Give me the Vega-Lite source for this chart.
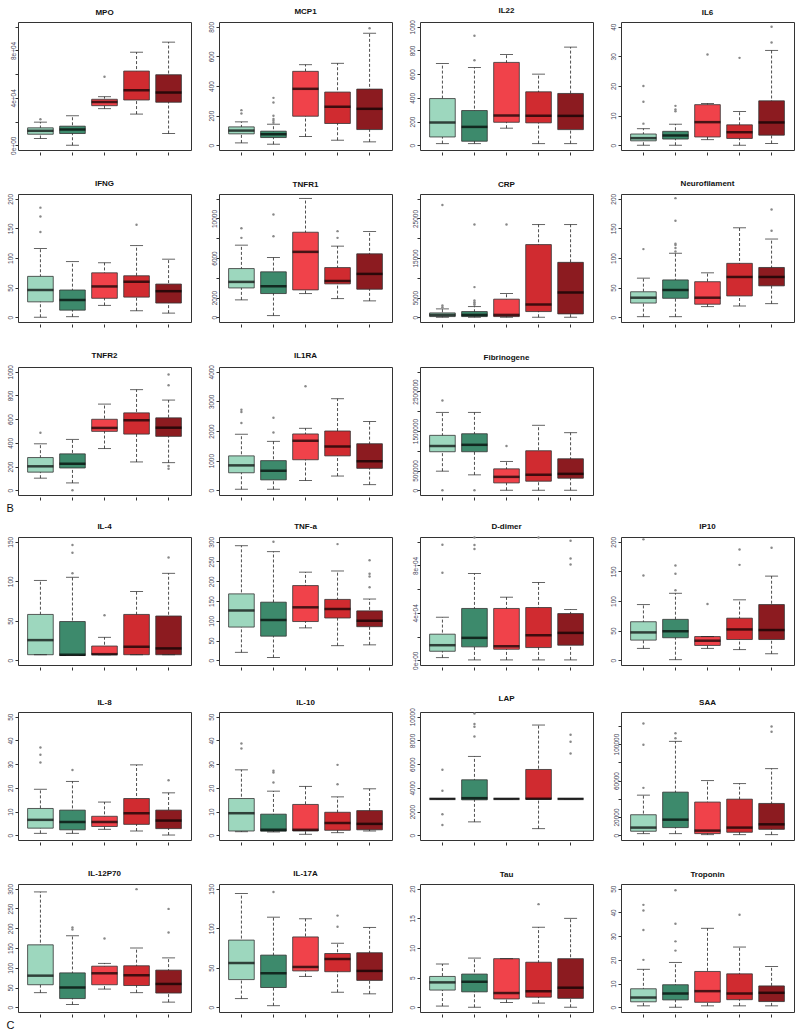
{
"$schema":"https://vega.github.io/schema/vega-lite/v6.json",
"padding":{"left":6,"top":6,"right":2,"bottom":2},
"background":"white",
"datasets":{"d":[
{"p":"MPO","g":1,"lo":5700,"q1":9300,"med":12200,"q3":14700,"hi":19500},
{"p":"MPO","g":2,"lo":0,"q1":9900,"med":13300,"q3":16100,"hi":24900},
{"p":"MPO","g":3,"lo":30900,"q1":33400,"med":36500,"q3":38800,"hi":41000},
{"p":"MPO","g":4,"lo":26300,"q1":38200,"med":46500,"q3":62600,"hi":78500},
{"p":"MPO","g":5,"lo":9900,"q1":36300,"med":44500,"q3":59500,"hi":87000},
{"p":"MPO","g":1,"o":22000},{"p":"MPO","g":3,"o":57800},
{"p":"MCP1","g":1,"lo":16,"q1":77,"med":99,"q3":124,"hi":158},
{"p":"MCP1","g":2,"lo":7,"q1":52,"med":74,"q3":95,"hi":142},
{"p":"MCP1","g":3,"lo":59,"q1":196,"med":381,"q3":499,"hi":544},
{"p":"MCP1","g":4,"lo":34,"q1":147,"med":260,"q3":359,"hi":553},
{"p":"MCP1","g":5,"lo":23,"q1":106,"med":246,"q3":379,"hi":756},
{"p":"MCP1","g":1,"o":214},{"p":"MCP1","g":1,"o":237},
{"p":"MCP1","g":2,"o":152},{"p":"MCP1","g":2,"o":165},{"p":"MCP1","g":2,"o":178},{"p":"MCP1","g":2,"o":199},{"p":"MCP1","g":2,"o":288},{"p":"MCP1","g":2,"o":320},
{"p":"MCP1","g":5,"o":790},
{"p":"IL22","g":1,"lo":14,"q1":70,"med":192,"q3":394,"hi":690},
{"p":"IL22","g":2,"lo":14,"q1":34,"med":155,"q3":293,"hi":656},
{"p":"IL22","g":3,"lo":144,"q1":194,"med":251,"q3":699,"hi":766},
{"p":"IL22","g":4,"lo":14,"q1":189,"med":248,"q3":451,"hi":600},
{"p":"IL22","g":5,"lo":14,"q1":132,"med":248,"q3":437,"hi":828},
{"p":"IL22","g":2,"o":718},{"p":"IL22","g":2,"o":924},
{"p":"IL6","g":1,"lo":0,"q1":1.5,"med":2.4,"q3":3.8,"hi":5.6},
{"p":"IL6","g":2,"lo":0,"q1":2.1,"med":3.3,"q3":4.7,"hi":7.1},
{"p":"IL6","g":3,"lo":1.9,"q1":2.8,"med":7.8,"q3":13.7,"hi":14.1},
{"p":"IL6","g":4,"lo":0,"q1":2.3,"med":4.4,"q3":6.9,"hi":11.4},
{"p":"IL6","g":5,"lo":0.6,"q1":3.4,"med":7.7,"q3":15,"hi":32},
{"p":"IL6","g":1,"o":7.3},{"p":"IL6","g":1,"o":14.7},{"p":"IL6","g":1,"o":20},
{"p":"IL6","g":2,"o":11.5},{"p":"IL6","g":2,"o":12.1},{"p":"IL6","g":2,"o":13.3},
{"p":"IL6","g":3,"o":30.6},{"p":"IL6","g":4,"o":29.5},{"p":"IL6","g":5,"o":34.7},{"p":"IL6","g":5,"o":40},
{"p":"IFNG","g":1,"lo":0,"q1":26,"med":46,"q3":69,"hi":116},
{"p":"IFNG","g":2,"lo":1,"q1":12,"med":29,"q3":46,"hi":94},
{"p":"IFNG","g":3,"lo":20,"q1":32,"med":52,"q3":75,"hi":92},
{"p":"IFNG","g":4,"lo":11,"q1":34,"med":60,"q3":70,"hi":121},
{"p":"IFNG","g":5,"lo":7,"q1":24,"med":44,"q3":56,"hi":98},
{"p":"IFNG","g":1,"o":144},{"p":"IFNG","g":1,"o":170},{"p":"IFNG","g":1,"o":185},{"p":"IFNG","g":4,"o":156},
{"p":"TNFR1","g":1,"lo":1760,"q1":2970,"med":3580,"q3":4930,"hi":7300},
{"p":"TNFR1","g":2,"lo":170,"q1":2400,"med":3140,"q3":4600,"hi":6050},
{"p":"TNFR1","g":3,"lo":2400,"q1":2770,"med":6620,"q3":8610,"hi":12030},
{"p":"TNFR1","g":4,"lo":1890,"q1":3380,"med":3680,"q3":5030,"hi":7200},
{"p":"TNFR1","g":5,"lo":1660,"q1":2840,"med":4390,"q3":6420,"hi":8680},
{"p":"TNFR1","g":1,"o":8040},{"p":"TNFR1","g":1,"o":9020},{"p":"TNFR1","g":2,"o":8210},{"p":"TNFR1","g":2,"o":10400},{"p":"TNFR1","g":4,"o":8040},{"p":"TNFR1","g":4,"o":8720},
{"p":"CRP","g":1,"lo":0,"q1":170,"med":590,"q3":1100,"hi":2120},
{"p":"CRP","g":2,"lo":0,"q1":170,"med":590,"q3":1440,"hi":2710},
{"p":"CRP","g":3,"lo":0,"q1":170,"med":590,"q3":4580,"hi":6020},
{"p":"CRP","g":4,"lo":0,"q1":1440,"med":3220,"q3":18390,"hi":23470},
{"p":"CRP","g":5,"lo":0,"q1":850,"med":6270,"q3":13900,"hi":23470},
{"p":"CRP","g":1,"o":2540},{"p":"CRP","g":1,"o":2970},{"p":"CRP","g":1,"o":28400},
{"p":"CRP","g":2,"o":3140},{"p":"CRP","g":2,"o":3390},{"p":"CRP","g":2,"o":3810},{"p":"CRP","g":2,"o":4240},{"p":"CRP","g":2,"o":7630},{"p":"CRP","g":2,"o":23500},
{"p":"CRP","g":3,"o":23500},
{"p":"Neurofilament","g":1,"lo":1,"q1":24,"med":33,"q3":43,"hi":66},
{"p":"Neurofilament","g":2,"lo":1,"q1":32,"med":46,"q3":63,"hi":108},
{"p":"Neurofilament","g":3,"lo":18,"q1":22,"med":33,"q3":60,"hi":75},
{"p":"Neurofilament","g":4,"lo":19,"q1":36,"med":68,"q3":91,"hi":151},
{"p":"Neurofilament","g":5,"lo":23,"q1":53,"med":68,"q3":84,"hi":132},
{"p":"Neurofilament","g":1,"o":115},
{"p":"Neurofilament","g":2,"o":111},{"p":"Neurofilament","g":2,"o":117},{"p":"Neurofilament","g":2,"o":122},{"p":"Neurofilament","g":2,"o":124},{"p":"Neurofilament","g":2,"o":163},{"p":"Neurofilament","g":2,"o":201},
{"p":"Neurofilament","g":5,"o":146},{"p":"Neurofilament","g":5,"o":182},
{"p":"TNFR2","g":1,"lo":102,"q1":153,"med":202,"q3":276,"hi":392},
{"p":"TNFR2","g":2,"lo":62,"q1":188,"med":224,"q3":307,"hi":429},
{"p":"TNFR2","g":3,"lo":352,"q1":497,"med":526,"q3":599,"hi":727},
{"p":"TNFR2","g":4,"lo":239,"q1":474,"med":591,"q3":653,"hi":849},
{"p":"TNFR2","g":5,"lo":233,"q1":455,"med":528,"q3":611,"hi":761},
{"p":"TNFR2","g":1,"o":486},{"p":"TNFR2","g":2,"o":0},
{"p":"TNFR2","g":5,"o":204},{"p":"TNFR2","g":5,"o":182},{"p":"TNFR2","g":5,"o":886},{"p":"TNFR2","g":5,"o":977},
{"p":"IL1RA","g":1,"lo":34,"q1":590,"med":840,"q3":1160,"hi":1890},
{"p":"IL1RA","g":2,"lo":34,"q1":350,"med":660,"q3":1000,"hi":1650},
{"p":"IL1RA","g":3,"lo":330,"q1":1030,"med":1670,"q3":1900,"hi":2090},
{"p":"IL1RA","g":4,"lo":480,"q1":1160,"med":1480,"q3":2000,"hi":3090},
{"p":"IL1RA","g":5,"lo":190,"q1":740,"med":980,"q3":1570,"hi":2320},
{"p":"IL1RA","g":1,"o":2270},{"p":"IL1RA","g":1,"o":2640},{"p":"IL1RA","g":1,"o":2720},
{"p":"IL1RA","g":2,"o":1950},{"p":"IL1RA","g":2,"o":2450},{"p":"IL1RA","g":3,"o":3510},
{"p":"Fibrinogene","g":1,"lo":483000,"q1":975000,"med":1120000,"q3":1390000,"hi":1970000},
{"p":"Fibrinogene","g":2,"lo":390000,"q1":975000,"med":1150000,"q3":1430000,"hi":1970000},
{"p":"Fibrinogene","g":3,"lo":0,"q1":186000,"med":339000,"q3":542000,"hi":729000},
{"p":"Fibrinogene","g":4,"lo":0,"q1":229000,"med":390000,"q3":1000000,"hi":1644000},
{"p":"Fibrinogene","g":5,"lo":0,"q1":305000,"med":415000,"q3":797000,"hi":1458000},
{"p":"Fibrinogene","g":1,"o":2270000},{"p":"Fibrinogene","g":1,"o":0},{"p":"Fibrinogene","g":2,"o":0},{"p":"Fibrinogene","g":3,"o":1120000},
{"p":"IL-4","g":1,"lo":7,"q1":7,"med":25.5,"q3":58,"hi":101},
{"p":"IL-4","g":2,"lo":6,"q1":6,"med":7,"q3":49,"hi":105},
{"p":"IL-4","g":3,"lo":7,"q1":7,"med":7.7,"q3":18,"hi":29},
{"p":"IL-4","g":4,"lo":7,"q1":7,"med":17,"q3":58,"hi":87},
{"p":"IL-4","g":5,"lo":7,"q1":7,"med":15,"q3":56,"hi":110},
{"p":"IL-4","g":2,"o":110},{"p":"IL-4","g":2,"o":136},{"p":"IL-4","g":2,"o":146},{"p":"IL-4","g":3,"o":57},{"p":"IL-4","g":5,"o":130},
{"p":"TNF-a","g":1,"lo":20,"q1":84,"med":126,"q3":168,"hi":290},
{"p":"TNF-a","g":2,"lo":7,"q1":61,"med":102,"q3":147,"hi":275},
{"p":"TNF-a","g":3,"lo":82,"q1":98,"med":134,"q3":189,"hi":223},
{"p":"TNF-a","g":4,"lo":37,"q1":107,"med":130,"q3":154,"hi":226},
{"p":"TNF-a","g":5,"lo":39,"q1":85,"med":100,"q3":125,"hi":155},
{"p":"TNF-a","g":2,"o":300},{"p":"TNF-a","g":4,"o":294},
{"p":"TNF-a","g":5,"o":185},{"p":"TNF-a","g":5,"o":212},{"p":"TNF-a","g":5,"o":219},{"p":"TNF-a","g":5,"o":253},
{"p":"D-dimer","g":1,"lo":2250,"q1":7600,"med":12700,"q3":22000,"hi":36300},
{"p":"D-dimer","g":2,"lo":300,"q1":11300,"med":18900,"q3":43700,"hi":73200},
{"p":"D-dimer","g":3,"lo":300,"q1":9300,"med":11800,"q3":43700,"hi":53200},
{"p":"D-dimer","g":4,"lo":300,"q1":10700,"med":21100,"q3":44500,"hi":65600},
{"p":"D-dimer","g":5,"lo":300,"q1":12700,"med":23100,"q3":39400,"hi":42800},
{"p":"D-dimer","g":1,"o":73800},{"p":"D-dimer","g":1,"o":97500},
{"p":"D-dimer","g":2,"o":93800},{"p":"D-dimer","g":2,"o":97200},{"p":"D-dimer","g":2,"o":103500},
{"p":"D-dimer","g":4,"o":103500},
{"p":"D-dimer","g":5,"o":80800},{"p":"D-dimer","g":5,"o":85900},{"p":"D-dimer","g":5,"o":100800},
{"p":"IP10","g":1,"lo":20,"q1":34,"med":47,"q3":65,"hi":94},
{"p":"IP10","g":2,"lo":1,"q1":38,"med":49,"q3":69,"hi":113},
{"p":"IP10","g":3,"lo":20,"q1":25,"med":33,"q3":40,"hi":40},
{"p":"IP10","g":4,"lo":18,"q1":35,"med":52,"q3":71,"hi":102},
{"p":"IP10","g":5,"lo":11,"q1":35,"med":51,"q3":94,"hi":142},
{"p":"IP10","g":1,"o":143},{"p":"IP10","g":1,"o":204},
{"p":"IP10","g":2,"o":118},{"p":"IP10","g":2,"o":146},{"p":"IP10","g":2,"o":160},
{"p":"IP10","g":3,"o":95},{"p":"IP10","g":4,"o":161},{"p":"IP10","g":4,"o":187},{"p":"IP10","g":5,"o":190},
{"p":"IL-8","g":1,"lo":0.8,"q1":3,"med":6.5,"q3":11.3,"hi":19.4},
{"p":"IL-8","g":2,"lo":0.8,"q1":2.3,"med":5.6,"q3":10.6,"hi":22.7},
{"p":"IL-8","g":3,"lo":2.5,"q1":3.7,"med":5.6,"q3":8,"hi":14},
{"p":"IL-8","g":4,"lo":1.8,"q1":4.6,"med":9.3,"q3":15.5,"hi":29.7},
{"p":"IL-8","g":5,"lo":0.1,"q1":2.8,"med":6.2,"q3":10.6,"hi":17.9},
{"p":"IL-8","g":1,"o":30.7},{"p":"IL-8","g":1,"o":34},{"p":"IL-8","g":1,"o":37},{"p":"IL-8","g":2,"o":27.5},{"p":"IL-8","g":5,"o":23.2},
{"p":"IL-10","g":1,"lo":1.5,"q1":1.8,"med":9.3,"q3":15.5,"hi":27.6},
{"p":"IL-10","g":2,"lo":1.4,"q1":1.7,"med":2.3,"q3":8.9,"hi":18.6},
{"p":"IL-10","g":3,"lo":0.4,"q1":1.8,"med":2.3,"q3":13,"hi":20.6},
{"p":"IL-10","g":4,"lo":1.1,"q1":2.1,"med":5.2,"q3":9.7,"hi":16.2},
{"p":"IL-10","g":5,"lo":1.8,"q1":2.3,"med":4.8,"q3":10.4,"hi":19.6},
{"p":"IL-10","g":1,"o":36.6},{"p":"IL-10","g":1,"o":38.7},
{"p":"IL-10","g":2,"o":22.3},{"p":"IL-10","g":2,"o":26.5},{"p":"IL-10","g":2,"o":27.2},
{"p":"IL-10","g":4,"o":21.5},{"p":"IL-10","g":4,"o":29.7},
{"p":"LAP","g":1,"lo":3070,"q1":3070,"med":3070,"q3":3070,"hi":3070},
{"p":"LAP","g":2,"lo":1130,"q1":2990,"med":3130,"q3":4680,"hi":6650},
{"p":"LAP","g":3,"lo":3070,"q1":3070,"med":3070,"q3":3070,"hi":3070},
{"p":"LAP","g":4,"lo":560,"q1":3040,"med":3070,"q3":5550,"hi":9300},
{"p":"LAP","g":5,"lo":3070,"q1":3070,"med":3070,"q3":3070,"hi":3070},
{"p":"LAP","g":1,"o":870},{"p":"LAP","g":1,"o":1770},{"p":"LAP","g":1,"o":3750},{"p":"LAP","g":1,"o":5520},
{"p":"LAP","g":2,"o":8340},{"p":"LAP","g":2,"o":9150},{"p":"LAP","g":2,"o":9380},{"p":"LAP","g":2,"o":10280},
{"p":"LAP","g":5,"o":6900},{"p":"LAP","g":5,"o":7890},{"p":"LAP","g":5,"o":8480},
{"p":"SAA","g":1,"lo":1800,"q1":4400,"med":8400,"q3":22500,"hi":44000},
{"p":"SAA","g":2,"lo":1800,"q1":8400,"med":17100,"q3":47300,"hi":103000},
{"p":"SAA","g":3,"lo":700,"q1":1800,"med":5100,"q3":36400,"hi":60000},
{"p":"SAA","g":4,"lo":700,"q1":3300,"med":8400,"q3":39600,"hi":56700},
{"p":"SAA","g":5,"lo":700,"q1":6500,"med":12000,"q3":34900,"hi":73100},
{"p":"SAA","g":1,"o":52000},{"p":"SAA","g":1,"o":99300},{"p":"SAA","g":1,"o":122500},
{"p":"SAA","g":2,"o":106500},{"p":"SAA","g":2,"o":112000},
{"p":"SAA","g":5,"o":113500},{"p":"SAA","g":5,"o":119300},
{"p":"IL-12P70","g":1,"lo":37,"q1":57,"med":80,"q3":158,"hi":292},
{"p":"IL-12P70","g":2,"lo":7,"q1":22,"med":50,"q3":87,"hi":181},
{"p":"IL-12P70","g":3,"lo":46,"q1":57,"med":86,"q3":104,"hi":111},
{"p":"IL-12P70","g":4,"lo":37,"q1":55,"med":81,"q3":105,"hi":150},
{"p":"IL-12P70","g":5,"lo":13,"q1":36,"med":59,"q3":94,"hi":125},
{"p":"IL-12P70","g":2,"o":197},{"p":"IL-12P70","g":2,"o":202},{"p":"IL-12P70","g":3,"o":174},{"p":"IL-12P70","g":4,"o":299},
{"p":"IL-12P70","g":5,"o":189},{"p":"IL-12P70","g":5,"o":249},
{"p":"IL-17A","g":1,"lo":11,"q1":35,"med":56,"q3":85,"hi":144},
{"p":"IL-17A","g":2,"lo":2,"q1":25,"med":43,"q3":66,"hi":114},
{"p":"IL-17A","g":3,"lo":39,"q1":46,"med":51,"q3":89,"hi":112},
{"p":"IL-17A","g":4,"lo":19,"q1":45,"med":61,"q3":68,"hi":81},
{"p":"IL-17A","g":5,"lo":17,"q1":34,"med":46,"q3":69,"hi":101},
{"p":"IL-17A","g":2,"o":146},{"p":"IL-17A","g":4,"o":102},{"p":"IL-17A","g":4,"o":116},
{"p":"Tau","g":1,"lo":0.2,"q1":2.9,"med":4.2,"q3":5.2,"hi":7.3},
{"p":"Tau","g":2,"lo":0,"q1":2.6,"med":4.3,"q3":5.6,"hi":8.3},
{"p":"Tau","g":3,"lo":0.8,"q1":1.4,"med":2.4,"q3":8.2,"hi":8.2},
{"p":"Tau","g":4,"lo":0.7,"q1":1.7,"med":2.7,"q3":7.6,"hi":13.5},
{"p":"Tau","g":5,"lo":0,"q1":1.5,"med":3.3,"q3":8.2,"hi":15},
{"p":"Tau","g":4,"o":17.4},
{"p":"Troponin","g":1,"lo":0.6,"q1":2.3,"med":4.1,"q3":7.8,"hi":16},
{"p":"Troponin","g":2,"lo":0,"q1":3.1,"med":5.8,"q3":9.5,"hi":18.9},
{"p":"Troponin","g":3,"lo":0.6,"q1":2.1,"med":6.8,"q3":15.1,"hi":33.3},
{"p":"Troponin","g":4,"lo":0.6,"q1":3.2,"med":5.8,"q3":14.1,"hi":25.4},
{"p":"Troponin","g":5,"lo":0.6,"q1":2.4,"med":6.1,"q3":9,"hi":17.2},
{"p":"Troponin","g":1,"o":20},{"p":"Troponin","g":1,"o":32.6},{"p":"Troponin","g":1,"o":40.8},{"p":"Troponin","g":1,"o":43.2},
{"p":"Troponin","g":2,"o":23.9},{"p":"Troponin","g":2,"o":27.8},{"p":"Troponin","g":2,"o":35.2},{"p":"Troponin","g":2,"o":49.4},
{"p":"Troponin","g":4,"o":39}
]},
"data":{"name":"d"},
"config":{
"font":"Liberation Sans",
"view":{"stroke":"#333","strokeWidth":1},
"range":{"category":["#9dd7be","#3d8a6c","#f0424a","#d02b30","#8c1b20"]},
"scale":{"bandPaddingInner":0.2,"bandPaddingOuter":0.3},
"mark":{"invalid":"filter"},
"axis":{"grid":false,"domain":false,"tickColor":"#333"},
"axisX":{"labels":false,"tickSize":3,"offset":2},
"axisY":{"labelAngle":-90,"labelFontSize":6.5,"labelColor":"#445","tickSize":3,"labelPadding":2,"labelFlush":false,"labelOverlap":false,"tickCount":20},
"title":{"fontSize":8,"fontWeight":"bold","offset":5,"color":"#111"}
},
"spacing":8,
"vconcat":[
{"columns":4,"spacing":{"row":23,"column":15},
"title":{"text":"B","orient":"bottom","anchor":"start","fontSize":11,"fontWeight":"normal","offset":2},
"concat":[
{"title":"MPO","width":173,"height":128,"transform":[{"filter":"datum.p==='MPO'"}],"resolve":{"axis":{"y":"independent"}},"encoding":{"x":{"field":"g","type":"ordinal","title":null}},"layer":[
{"mark":{"type":"rule","strokeDash":[3,2],"color":"#222","strokeWidth":0.8},"encoding":{"y":{"field":"lo","type":"quantitative","title":null,"scale":{"domain":[-4000,104000],"nice":false,"zero":false},"axis":{"values":[0,20000,40000,60000,80000,100000],"tickCount":20,"labels":false,"orient":"left"}},"y2":{"field":"hi"}}},
{"mark":{"type":"bar","stroke":"#333","strokeWidth":0.8},"encoding":{"y":{"field":"q1","type":"quantitative","title":null,"axis":{"values":[0,40000,80000],"tickCount":20,"ticks":false,"orient":"left","labelOverlap":false,"labelExpr":"replace(format(datum.value,'.0e'),'e+','e+0')"}},"y2":{"field":"q3"},"color":{"field":"g","type":"nominal","legend":null}}},
{"mark":{"type":"tick","thickness":2.5,"size":26,"color":"#000"},"encoding":{"y":{"field":"med","type":"quantitative","title":null,"axis":null}}},
{"mark":{"type":"tick","thickness":1,"size":13,"color":"#222"},"encoding":{"y":{"field":"lo","type":"quantitative","title":null,"axis":null}}},
{"mark":{"type":"tick","thickness":1,"size":13,"color":"#222"},"encoding":{"y":{"field":"hi","type":"quantitative","title":null,"axis":null}}},
{"mark":{"type":"point","filled":true,"size":6,"color":"#888","opacity":1},"encoding":{"y":{"field":"o","type":"quantitative","title":null,"axis":null}}}]},
{"title":"MCP1","width":173,"height":128,"transform":[{"filter":"datum.p==='MCP1'"}],"encoding":{"x":{"field":"g","type":"ordinal","title":null}},"layer":[
{"mark":{"type":"rule","strokeDash":[3,2],"color":"#222","strokeWidth":0.8},"encoding":{"y":{"field":"lo","type":"quantitative","title":null,"scale":{"domain":[-32,832],"nice":false,"zero":false},"axis":{"values":[0,200,400,600,800],"tickCount":20,"format":"d","labelOverlap":false}},"y2":{"field":"hi"}}},
{"mark":{"type":"bar","stroke":"#333","strokeWidth":0.8},"encoding":{"y":{"field":"q1","type":"quantitative","title":null},"y2":{"field":"q3"},"color":{"field":"g","type":"nominal","legend":null}}},
{"mark":{"type":"tick","thickness":2.5,"size":26,"color":"#000"},"encoding":{"y":{"field":"med","type":"quantitative","title":null}}},
{"mark":{"type":"tick","thickness":1,"size":13,"color":"#222"},"encoding":{"y":{"field":"lo","type":"quantitative","title":null}}},
{"mark":{"type":"tick","thickness":1,"size":13,"color":"#222"},"encoding":{"y":{"field":"hi","type":"quantitative","title":null}}},
{"mark":{"type":"point","filled":true,"size":6,"color":"#888","opacity":1},"encoding":{"y":{"field":"o","type":"quantitative","title":null}}}]},
{"title":"IL22","width":173,"height":128,"transform":[{"filter":"datum.p==='IL22'"}],"encoding":{"x":{"field":"g","type":"ordinal","title":null}},"layer":[
{"mark":{"type":"rule","strokeDash":[3,2],"color":"#222","strokeWidth":0.8},"encoding":{"y":{"field":"lo","type":"quantitative","title":null,"scale":{"domain":[-40,1040],"nice":false,"zero":false},"axis":{"values":[0,200,400,600,800,1000],"tickCount":20,"format":"d","labelOverlap":false}},"y2":{"field":"hi"}}},
{"mark":{"type":"bar","stroke":"#333","strokeWidth":0.8},"encoding":{"y":{"field":"q1","type":"quantitative","title":null},"y2":{"field":"q3"},"color":{"field":"g","type":"nominal","legend":null}}},
{"mark":{"type":"tick","thickness":2.5,"size":26,"color":"#000"},"encoding":{"y":{"field":"med","type":"quantitative","title":null}}},
{"mark":{"type":"tick","thickness":1,"size":13,"color":"#222"},"encoding":{"y":{"field":"lo","type":"quantitative","title":null}}},
{"mark":{"type":"tick","thickness":1,"size":13,"color":"#222"},"encoding":{"y":{"field":"hi","type":"quantitative","title":null}}},
{"mark":{"type":"point","filled":true,"size":6,"color":"#888","opacity":1},"encoding":{"y":{"field":"o","type":"quantitative","title":null}}}]},
{"title":"IL6","width":173,"height":128,"transform":[{"filter":"datum.p==='IL6'"}],"encoding":{"x":{"field":"g","type":"ordinal","title":null}},"layer":[
{"mark":{"type":"rule","strokeDash":[3,2],"color":"#222","strokeWidth":0.8},"encoding":{"y":{"field":"lo","type":"quantitative","title":null,"scale":{"domain":[-1.6,41.6],"nice":false,"zero":false},"axis":{"values":[0,10,20,30,40],"tickCount":20,"format":"d","labelOverlap":false}},"y2":{"field":"hi"}}},
{"mark":{"type":"bar","stroke":"#333","strokeWidth":0.8},"encoding":{"y":{"field":"q1","type":"quantitative","title":null},"y2":{"field":"q3"},"color":{"field":"g","type":"nominal","legend":null}}},
{"mark":{"type":"tick","thickness":2.5,"size":26,"color":"#000"},"encoding":{"y":{"field":"med","type":"quantitative","title":null}}},
{"mark":{"type":"tick","thickness":1,"size":13,"color":"#222"},"encoding":{"y":{"field":"lo","type":"quantitative","title":null}}},
{"mark":{"type":"tick","thickness":1,"size":13,"color":"#222"},"encoding":{"y":{"field":"hi","type":"quantitative","title":null}}},
{"mark":{"type":"point","filled":true,"size":6,"color":"#888","opacity":1},"encoding":{"y":{"field":"o","type":"quantitative","title":null}}}]},
{"title":"IFNG","width":173,"height":128,"transform":[{"filter":"datum.p==='IFNG'"}],"encoding":{"x":{"field":"g","type":"ordinal","title":null}},"layer":[
{"mark":{"type":"rule","strokeDash":[3,2],"color":"#222","strokeWidth":0.8},"encoding":{"y":{"field":"lo","type":"quantitative","title":null,"scale":{"domain":[-8,208],"nice":false,"zero":false},"axis":{"values":[0,50,100,150,200],"tickCount":20,"format":"d","labelOverlap":false}},"y2":{"field":"hi"}}},
{"mark":{"type":"bar","stroke":"#333","strokeWidth":0.8},"encoding":{"y":{"field":"q1","type":"quantitative","title":null},"y2":{"field":"q3"},"color":{"field":"g","type":"nominal","legend":null}}},
{"mark":{"type":"tick","thickness":2.5,"size":26,"color":"#000"},"encoding":{"y":{"field":"med","type":"quantitative","title":null}}},
{"mark":{"type":"tick","thickness":1,"size":13,"color":"#222"},"encoding":{"y":{"field":"lo","type":"quantitative","title":null}}},
{"mark":{"type":"tick","thickness":1,"size":13,"color":"#222"},"encoding":{"y":{"field":"hi","type":"quantitative","title":null}}},
{"mark":{"type":"point","filled":true,"size":6,"color":"#888","opacity":1},"encoding":{"y":{"field":"o","type":"quantitative","title":null}}}]},
{"title":"TNFR1","width":173,"height":128,"transform":[{"filter":"datum.p==='TNFR1'"}],"resolve":{"axis":{"y":"independent"}},"encoding":{"x":{"field":"g","type":"ordinal","title":null}},"layer":[
{"mark":{"type":"rule","strokeDash":[3,2],"color":"#222","strokeWidth":0.8},"encoding":{"y":{"field":"lo","type":"quantitative","title":null,"scale":{"domain":[-480,12480],"nice":false,"zero":false},"axis":{"values":[0,2000,4000,6000,8000,10000,12000],"tickCount":20,"labels":false,"orient":"left"}},"y2":{"field":"hi"}}},
{"mark":{"type":"bar","stroke":"#333","strokeWidth":0.8},"encoding":{"y":{"field":"q1","type":"quantitative","title":null,"axis":{"values":[0,2000,6000,10000],"tickCount":20,"ticks":false,"orient":"left","format":"d","labelOverlap":false}},"y2":{"field":"q3"},"color":{"field":"g","type":"nominal","legend":null}}},
{"mark":{"type":"tick","thickness":2.5,"size":26,"color":"#000"},"encoding":{"y":{"field":"med","type":"quantitative","title":null,"axis":null}}},
{"mark":{"type":"tick","thickness":1,"size":13,"color":"#222"},"encoding":{"y":{"field":"lo","type":"quantitative","title":null,"axis":null}}},
{"mark":{"type":"tick","thickness":1,"size":13,"color":"#222"},"encoding":{"y":{"field":"hi","type":"quantitative","title":null,"axis":null}}},
{"mark":{"type":"point","filled":true,"size":6,"color":"#888","opacity":1},"encoding":{"y":{"field":"o","type":"quantitative","title":null,"axis":null}}}]},
{"title":"CRP","width":173,"height":128,"transform":[{"filter":"datum.p==='CRP'"}],"resolve":{"axis":{"y":"independent"}},"encoding":{"x":{"field":"g","type":"ordinal","title":null}},"layer":[
{"mark":{"type":"rule","strokeDash":[3,2],"color":"#222","strokeWidth":0.8},"encoding":{"y":{"field":"lo","type":"quantitative","title":null,"scale":{"domain":[-1200,31200],"nice":false,"zero":false},"axis":{"values":[0,5000,10000,15000,20000,25000,30000],"tickCount":20,"labels":false,"orient":"left"}},"y2":{"field":"hi"}}},
{"mark":{"type":"bar","stroke":"#333","strokeWidth":0.8},"encoding":{"y":{"field":"q1","type":"quantitative","title":null,"axis":{"values":[0,5000,15000,25000],"tickCount":20,"ticks":false,"orient":"left","format":"d","labelOverlap":false}},"y2":{"field":"q3"},"color":{"field":"g","type":"nominal","legend":null}}},
{"mark":{"type":"tick","thickness":2.5,"size":26,"color":"#000"},"encoding":{"y":{"field":"med","type":"quantitative","title":null,"axis":null}}},
{"mark":{"type":"tick","thickness":1,"size":13,"color":"#222"},"encoding":{"y":{"field":"lo","type":"quantitative","title":null,"axis":null}}},
{"mark":{"type":"tick","thickness":1,"size":13,"color":"#222"},"encoding":{"y":{"field":"hi","type":"quantitative","title":null,"axis":null}}},
{"mark":{"type":"point","filled":true,"size":6,"color":"#888","opacity":1},"encoding":{"y":{"field":"o","type":"quantitative","title":null,"axis":null}}}]},
{"title":"Neurofilament","width":173,"height":128,"transform":[{"filter":"datum.p==='Neurofilament'"}],"encoding":{"x":{"field":"g","type":"ordinal","title":null}},"layer":[
{"mark":{"type":"rule","strokeDash":[3,2],"color":"#222","strokeWidth":0.8},"encoding":{"y":{"field":"lo","type":"quantitative","title":null,"scale":{"domain":[-8,208],"nice":false,"zero":false},"axis":{"values":[0,50,100,150,200],"tickCount":20,"format":"d","labelOverlap":false}},"y2":{"field":"hi"}}},
{"mark":{"type":"bar","stroke":"#333","strokeWidth":0.8},"encoding":{"y":{"field":"q1","type":"quantitative","title":null},"y2":{"field":"q3"},"color":{"field":"g","type":"nominal","legend":null}}},
{"mark":{"type":"tick","thickness":2.5,"size":26,"color":"#000"},"encoding":{"y":{"field":"med","type":"quantitative","title":null}}},
{"mark":{"type":"tick","thickness":1,"size":13,"color":"#222"},"encoding":{"y":{"field":"lo","type":"quantitative","title":null}}},
{"mark":{"type":"tick","thickness":1,"size":13,"color":"#222"},"encoding":{"y":{"field":"hi","type":"quantitative","title":null}}},
{"mark":{"type":"point","filled":true,"size":6,"color":"#888","opacity":1},"encoding":{"y":{"field":"o","type":"quantitative","title":null}}}]},
{"title":"TNFR2","width":173,"height":128,"transform":[{"filter":"datum.p==='TNFR2'"}],"encoding":{"x":{"field":"g","type":"ordinal","title":null}},"layer":[
{"mark":{"type":"rule","strokeDash":[3,2],"color":"#222","strokeWidth":0.8},"encoding":{"y":{"field":"lo","type":"quantitative","title":null,"scale":{"domain":[-40,1040],"nice":false,"zero":false},"axis":{"values":[0,200,400,600,800,1000],"tickCount":20,"format":"d","labelOverlap":false}},"y2":{"field":"hi"}}},
{"mark":{"type":"bar","stroke":"#333","strokeWidth":0.8},"encoding":{"y":{"field":"q1","type":"quantitative","title":null},"y2":{"field":"q3"},"color":{"field":"g","type":"nominal","legend":null}}},
{"mark":{"type":"tick","thickness":2.5,"size":26,"color":"#000"},"encoding":{"y":{"field":"med","type":"quantitative","title":null}}},
{"mark":{"type":"tick","thickness":1,"size":13,"color":"#222"},"encoding":{"y":{"field":"lo","type":"quantitative","title":null}}},
{"mark":{"type":"tick","thickness":1,"size":13,"color":"#222"},"encoding":{"y":{"field":"hi","type":"quantitative","title":null}}},
{"mark":{"type":"point","filled":true,"size":6,"color":"#888","opacity":1},"encoding":{"y":{"field":"o","type":"quantitative","title":null}}}]},
{"title":"IL1RA","width":173,"height":128,"transform":[{"filter":"datum.p==='IL1RA'"}],"encoding":{"x":{"field":"g","type":"ordinal","title":null}},"layer":[
{"mark":{"type":"rule","strokeDash":[3,2],"color":"#222","strokeWidth":0.8},"encoding":{"y":{"field":"lo","type":"quantitative","title":null,"scale":{"domain":[-160,4160],"nice":false,"zero":false},"axis":{"values":[0,1000,2000,3000,4000],"tickCount":20,"format":"d","labelOverlap":false}},"y2":{"field":"hi"}}},
{"mark":{"type":"bar","stroke":"#333","strokeWidth":0.8},"encoding":{"y":{"field":"q1","type":"quantitative","title":null},"y2":{"field":"q3"},"color":{"field":"g","type":"nominal","legend":null}}},
{"mark":{"type":"tick","thickness":2.5,"size":26,"color":"#000"},"encoding":{"y":{"field":"med","type":"quantitative","title":null}}},
{"mark":{"type":"tick","thickness":1,"size":13,"color":"#222"},"encoding":{"y":{"field":"lo","type":"quantitative","title":null}}},
{"mark":{"type":"tick","thickness":1,"size":13,"color":"#222"},"encoding":{"y":{"field":"hi","type":"quantitative","title":null}}},
{"mark":{"type":"point","filled":true,"size":6,"color":"#888","opacity":1},"encoding":{"y":{"field":"o","type":"quantitative","title":null}}}]},
{"title":"Fibrinogene","width":173,"height":128,"transform":[{"filter":"datum.p==='Fibrinogene'"}],"resolve":{"axis":{"y":"independent"}},"encoding":{"x":{"field":"g","type":"ordinal","title":null}},"layer":[
{"mark":{"type":"rule","strokeDash":[3,2],"color":"#222","strokeWidth":0.8},"encoding":{"y":{"field":"lo","type":"quantitative","title":null,"scale":{"domain":[-120000,3120000],"nice":false,"zero":false},"axis":{"values":[0,500000,1000000,1500000,2000000,2500000,3000000],"tickCount":20,"labels":false,"orient":"left"}},"y2":{"field":"hi"}}},
{"mark":{"type":"bar","stroke":"#333","strokeWidth":0.8},"encoding":{"y":{"field":"q1","type":"quantitative","title":null,"axis":{"values":[0,500000,1500000,2500000],"tickCount":20,"ticks":false,"orient":"left","format":"d","labelOverlap":false}},"y2":{"field":"q3"},"color":{"field":"g","type":"nominal","legend":null}}},
{"mark":{"type":"tick","thickness":2.5,"size":26,"color":"#000"},"encoding":{"y":{"field":"med","type":"quantitative","title":null,"axis":null}}},
{"mark":{"type":"tick","thickness":1,"size":13,"color":"#222"},"encoding":{"y":{"field":"lo","type":"quantitative","title":null,"axis":null}}},
{"mark":{"type":"tick","thickness":1,"size":13,"color":"#222"},"encoding":{"y":{"field":"hi","type":"quantitative","title":null,"axis":null}}},
{"mark":{"type":"point","filled":true,"size":6,"color":"#888","opacity":1},"encoding":{"y":{"field":"o","type":"quantitative","title":null,"axis":null}}}]}
]},
{"columns":4,"spacing":{"row":23,"column":15},
"title":{"text":"C","orient":"bottom","anchor":"start","fontSize":11,"fontWeight":"normal","offset":2},
"concat":[
{"title":"IL-4","width":173,"height":128,"transform":[{"filter":"datum.p==='IL-4'"}],"encoding":{"x":{"field":"g","type":"ordinal","title":null}},"layer":[
{"mark":{"type":"rule","strokeDash":[3,2],"color":"#222","strokeWidth":0.8},"encoding":{"y":{"field":"lo","type":"quantitative","title":null,"scale":{"domain":[-6,156],"nice":false,"zero":false},"axis":{"values":[0,50,100,150],"tickCount":20,"format":"d","labelOverlap":false}},"y2":{"field":"hi"}}},
{"mark":{"type":"bar","stroke":"#333","strokeWidth":0.8},"encoding":{"y":{"field":"q1","type":"quantitative","title":null},"y2":{"field":"q3"},"color":{"field":"g","type":"nominal","legend":null}}},
{"mark":{"type":"tick","thickness":2.5,"size":26,"color":"#000"},"encoding":{"y":{"field":"med","type":"quantitative","title":null}}},
{"mark":{"type":"tick","thickness":1,"size":13,"color":"#222"},"encoding":{"y":{"field":"lo","type":"quantitative","title":null}}},
{"mark":{"type":"tick","thickness":1,"size":13,"color":"#222"},"encoding":{"y":{"field":"hi","type":"quantitative","title":null}}},
{"mark":{"type":"point","filled":true,"size":6,"color":"#888","opacity":1},"encoding":{"y":{"field":"o","type":"quantitative","title":null}}}]},
{"title":"TNF-a","width":173,"height":128,"transform":[{"filter":"datum.p==='TNF-a'"}],"encoding":{"x":{"field":"g","type":"ordinal","title":null}},"layer":[
{"mark":{"type":"rule","strokeDash":[3,2],"color":"#222","strokeWidth":0.8},"encoding":{"y":{"field":"lo","type":"quantitative","title":null,"scale":{"domain":[-12,312],"nice":false,"zero":false},"axis":{"values":[0,50,100,150,200,250,300],"tickCount":20,"format":"d","labelOverlap":false}},"y2":{"field":"hi"}}},
{"mark":{"type":"bar","stroke":"#333","strokeWidth":0.8},"encoding":{"y":{"field":"q1","type":"quantitative","title":null},"y2":{"field":"q3"},"color":{"field":"g","type":"nominal","legend":null}}},
{"mark":{"type":"tick","thickness":2.5,"size":26,"color":"#000"},"encoding":{"y":{"field":"med","type":"quantitative","title":null}}},
{"mark":{"type":"tick","thickness":1,"size":13,"color":"#222"},"encoding":{"y":{"field":"lo","type":"quantitative","title":null}}},
{"mark":{"type":"tick","thickness":1,"size":13,"color":"#222"},"encoding":{"y":{"field":"hi","type":"quantitative","title":null}}},
{"mark":{"type":"point","filled":true,"size":6,"color":"#888","opacity":1},"encoding":{"y":{"field":"o","type":"quantitative","title":null}}}]},
{"title":"D-dimer","width":173,"height":128,"transform":[{"filter":"datum.p==='D-dimer'"}],"resolve":{"axis":{"y":"independent"}},"encoding":{"x":{"field":"g","type":"ordinal","title":null}},"layer":[
{"mark":{"type":"rule","strokeDash":[3,2],"color":"#222","strokeWidth":0.8},"encoding":{"y":{"field":"lo","type":"quantitative","title":null,"scale":{"domain":[-4000,104000],"nice":false,"zero":false},"axis":{"values":[0,20000,40000,60000,80000,100000],"tickCount":20,"labels":false,"orient":"left"}},"y2":{"field":"hi"}}},
{"mark":{"type":"bar","stroke":"#333","strokeWidth":0.8},"encoding":{"y":{"field":"q1","type":"quantitative","title":null,"axis":{"values":[0,40000,80000],"tickCount":20,"ticks":false,"orient":"left","labelOverlap":false,"labelExpr":"replace(format(datum.value,'.0e'),'e+','e+0')"}},"y2":{"field":"q3"},"color":{"field":"g","type":"nominal","legend":null}}},
{"mark":{"type":"tick","thickness":2.5,"size":26,"color":"#000"},"encoding":{"y":{"field":"med","type":"quantitative","title":null,"axis":null}}},
{"mark":{"type":"tick","thickness":1,"size":13,"color":"#222"},"encoding":{"y":{"field":"lo","type":"quantitative","title":null,"axis":null}}},
{"mark":{"type":"tick","thickness":1,"size":13,"color":"#222"},"encoding":{"y":{"field":"hi","type":"quantitative","title":null,"axis":null}}},
{"mark":{"type":"point","filled":true,"size":6,"color":"#888","opacity":1},"encoding":{"y":{"field":"o","type":"quantitative","title":null,"axis":null}}}]},
{"title":"IP10","width":173,"height":128,"transform":[{"filter":"datum.p==='IP10'"}],"encoding":{"x":{"field":"g","type":"ordinal","title":null}},"layer":[
{"mark":{"type":"rule","strokeDash":[3,2],"color":"#222","strokeWidth":0.8},"encoding":{"y":{"field":"lo","type":"quantitative","title":null,"scale":{"domain":[-8,208],"nice":false,"zero":false},"axis":{"values":[0,50,100,150,200],"tickCount":20,"format":"d","labelOverlap":false}},"y2":{"field":"hi"}}},
{"mark":{"type":"bar","stroke":"#333","strokeWidth":0.8},"encoding":{"y":{"field":"q1","type":"quantitative","title":null},"y2":{"field":"q3"},"color":{"field":"g","type":"nominal","legend":null}}},
{"mark":{"type":"tick","thickness":2.5,"size":26,"color":"#000"},"encoding":{"y":{"field":"med","type":"quantitative","title":null}}},
{"mark":{"type":"tick","thickness":1,"size":13,"color":"#222"},"encoding":{"y":{"field":"lo","type":"quantitative","title":null}}},
{"mark":{"type":"tick","thickness":1,"size":13,"color":"#222"},"encoding":{"y":{"field":"hi","type":"quantitative","title":null}}},
{"mark":{"type":"point","filled":true,"size":6,"color":"#888","opacity":1},"encoding":{"y":{"field":"o","type":"quantitative","title":null}}}]},
{"title":"IL-8","width":173,"height":128,"transform":[{"filter":"datum.p==='IL-8'"}],"encoding":{"x":{"field":"g","type":"ordinal","title":null}},"layer":[
{"mark":{"type":"rule","strokeDash":[3,2],"color":"#222","strokeWidth":0.8},"encoding":{"y":{"field":"lo","type":"quantitative","title":null,"scale":{"domain":[-2,52],"nice":false,"zero":false},"axis":{"values":[0,10,20,30,40,50],"tickCount":20,"format":"d","labelOverlap":false}},"y2":{"field":"hi"}}},
{"mark":{"type":"bar","stroke":"#333","strokeWidth":0.8},"encoding":{"y":{"field":"q1","type":"quantitative","title":null},"y2":{"field":"q3"},"color":{"field":"g","type":"nominal","legend":null}}},
{"mark":{"type":"tick","thickness":2.5,"size":26,"color":"#000"},"encoding":{"y":{"field":"med","type":"quantitative","title":null}}},
{"mark":{"type":"tick","thickness":1,"size":13,"color":"#222"},"encoding":{"y":{"field":"lo","type":"quantitative","title":null}}},
{"mark":{"type":"tick","thickness":1,"size":13,"color":"#222"},"encoding":{"y":{"field":"hi","type":"quantitative","title":null}}},
{"mark":{"type":"point","filled":true,"size":6,"color":"#888","opacity":1},"encoding":{"y":{"field":"o","type":"quantitative","title":null}}}]},
{"title":"IL-10","width":173,"height":128,"transform":[{"filter":"datum.p==='IL-10'"}],"encoding":{"x":{"field":"g","type":"ordinal","title":null}},"layer":[
{"mark":{"type":"rule","strokeDash":[3,2],"color":"#222","strokeWidth":0.8},"encoding":{"y":{"field":"lo","type":"quantitative","title":null,"scale":{"domain":[-2,52],"nice":false,"zero":false},"axis":{"values":[0,10,20,30,40,50],"tickCount":20,"format":"d","labelOverlap":false}},"y2":{"field":"hi"}}},
{"mark":{"type":"bar","stroke":"#333","strokeWidth":0.8},"encoding":{"y":{"field":"q1","type":"quantitative","title":null},"y2":{"field":"q3"},"color":{"field":"g","type":"nominal","legend":null}}},
{"mark":{"type":"tick","thickness":2.5,"size":26,"color":"#000"},"encoding":{"y":{"field":"med","type":"quantitative","title":null}}},
{"mark":{"type":"tick","thickness":1,"size":13,"color":"#222"},"encoding":{"y":{"field":"lo","type":"quantitative","title":null}}},
{"mark":{"type":"tick","thickness":1,"size":13,"color":"#222"},"encoding":{"y":{"field":"hi","type":"quantitative","title":null}}},
{"mark":{"type":"point","filled":true,"size":6,"color":"#888","opacity":1},"encoding":{"y":{"field":"o","type":"quantitative","title":null}}}]},
{"title":"LAP","width":173,"height":128,"transform":[{"filter":"datum.p==='LAP'"}],"encoding":{"x":{"field":"g","type":"ordinal","title":null}},"layer":[
{"mark":{"type":"rule","strokeDash":[3,2],"color":"#222","strokeWidth":0.8},"encoding":{"y":{"field":"lo","type":"quantitative","title":null,"scale":{"domain":[-400,10400],"nice":false,"zero":false},"axis":{"values":[0,2000,4000,6000,8000,10000],"tickCount":20,"format":"d","labelOverlap":false}},"y2":{"field":"hi"}}},
{"mark":{"type":"bar","stroke":"#333","strokeWidth":0.8},"encoding":{"y":{"field":"q1","type":"quantitative","title":null},"y2":{"field":"q3"},"color":{"field":"g","type":"nominal","legend":null}}},
{"mark":{"type":"tick","thickness":2.5,"size":26,"color":"#000"},"encoding":{"y":{"field":"med","type":"quantitative","title":null}}},
{"mark":{"type":"tick","thickness":1,"size":13,"color":"#222"},"encoding":{"y":{"field":"lo","type":"quantitative","title":null}}},
{"mark":{"type":"tick","thickness":1,"size":13,"color":"#222"},"encoding":{"y":{"field":"hi","type":"quantitative","title":null}}},
{"mark":{"type":"point","filled":true,"size":6,"color":"#888","opacity":1},"encoding":{"y":{"field":"o","type":"quantitative","title":null}}}]},
{"title":"SAA","width":173,"height":128,"transform":[{"filter":"datum.p==='SAA'"}],"resolve":{"axis":{"y":"independent"}},"encoding":{"x":{"field":"g","type":"ordinal","title":null}},"layer":[
{"mark":{"type":"rule","strokeDash":[3,2],"color":"#222","strokeWidth":0.8},"encoding":{"y":{"field":"lo","type":"quantitative","title":null,"scale":{"domain":[-5200,135200],"nice":false,"zero":false},"axis":{"values":[0,20000,40000,60000,80000,100000,120000],"tickCount":20,"labels":false,"orient":"left"}},"y2":{"field":"hi"}}},
{"mark":{"type":"bar","stroke":"#333","strokeWidth":0.8},"encoding":{"y":{"field":"q1","type":"quantitative","title":null,"axis":{"values":[0,20000,60000,100000],"tickCount":20,"ticks":false,"orient":"left","format":"d","labelOverlap":false}},"y2":{"field":"q3"},"color":{"field":"g","type":"nominal","legend":null}}},
{"mark":{"type":"tick","thickness":2.5,"size":26,"color":"#000"},"encoding":{"y":{"field":"med","type":"quantitative","title":null,"axis":null}}},
{"mark":{"type":"tick","thickness":1,"size":13,"color":"#222"},"encoding":{"y":{"field":"lo","type":"quantitative","title":null,"axis":null}}},
{"mark":{"type":"tick","thickness":1,"size":13,"color":"#222"},"encoding":{"y":{"field":"hi","type":"quantitative","title":null,"axis":null}}},
{"mark":{"type":"point","filled":true,"size":6,"color":"#888","opacity":1},"encoding":{"y":{"field":"o","type":"quantitative","title":null,"axis":null}}}]},
{"title":"IL-12P70","width":173,"height":128,"transform":[{"filter":"datum.p==='IL-12P70'"}],"encoding":{"x":{"field":"g","type":"ordinal","title":null}},"layer":[
{"mark":{"type":"rule","strokeDash":[3,2],"color":"#222","strokeWidth":0.8},"encoding":{"y":{"field":"lo","type":"quantitative","title":null,"scale":{"domain":[-12,312],"nice":false,"zero":false},"axis":{"values":[0,50,100,150,200,250,300],"tickCount":20,"format":"d","labelOverlap":false}},"y2":{"field":"hi"}}},
{"mark":{"type":"bar","stroke":"#333","strokeWidth":0.8},"encoding":{"y":{"field":"q1","type":"quantitative","title":null},"y2":{"field":"q3"},"color":{"field":"g","type":"nominal","legend":null}}},
{"mark":{"type":"tick","thickness":2.5,"size":26,"color":"#000"},"encoding":{"y":{"field":"med","type":"quantitative","title":null}}},
{"mark":{"type":"tick","thickness":1,"size":13,"color":"#222"},"encoding":{"y":{"field":"lo","type":"quantitative","title":null}}},
{"mark":{"type":"tick","thickness":1,"size":13,"color":"#222"},"encoding":{"y":{"field":"hi","type":"quantitative","title":null}}},
{"mark":{"type":"point","filled":true,"size":6,"color":"#888","opacity":1},"encoding":{"y":{"field":"o","type":"quantitative","title":null}}}]},
{"title":"IL-17A","width":173,"height":128,"transform":[{"filter":"datum.p==='IL-17A'"}],"encoding":{"x":{"field":"g","type":"ordinal","title":null}},"layer":[
{"mark":{"type":"rule","strokeDash":[3,2],"color":"#222","strokeWidth":0.8},"encoding":{"y":{"field":"lo","type":"quantitative","title":null,"scale":{"domain":[-6,156],"nice":false,"zero":false},"axis":{"values":[0,50,100,150],"tickCount":20,"format":"d","labelOverlap":false}},"y2":{"field":"hi"}}},
{"mark":{"type":"bar","stroke":"#333","strokeWidth":0.8},"encoding":{"y":{"field":"q1","type":"quantitative","title":null},"y2":{"field":"q3"},"color":{"field":"g","type":"nominal","legend":null}}},
{"mark":{"type":"tick","thickness":2.5,"size":26,"color":"#000"},"encoding":{"y":{"field":"med","type":"quantitative","title":null}}},
{"mark":{"type":"tick","thickness":1,"size":13,"color":"#222"},"encoding":{"y":{"field":"lo","type":"quantitative","title":null}}},
{"mark":{"type":"tick","thickness":1,"size":13,"color":"#222"},"encoding":{"y":{"field":"hi","type":"quantitative","title":null}}},
{"mark":{"type":"point","filled":true,"size":6,"color":"#888","opacity":1},"encoding":{"y":{"field":"o","type":"quantitative","title":null}}}]},
{"title":"Tau","width":173,"height":128,"transform":[{"filter":"datum.p==='Tau'"}],"encoding":{"x":{"field":"g","type":"ordinal","title":null}},"layer":[
{"mark":{"type":"rule","strokeDash":[3,2],"color":"#222","strokeWidth":0.8},"encoding":{"y":{"field":"lo","type":"quantitative","title":null,"scale":{"domain":[-0.8,20.8],"nice":false,"zero":false},"axis":{"values":[0,5,10,15,20],"tickCount":20,"format":"d","labelOverlap":false}},"y2":{"field":"hi"}}},
{"mark":{"type":"bar","stroke":"#333","strokeWidth":0.8},"encoding":{"y":{"field":"q1","type":"quantitative","title":null},"y2":{"field":"q3"},"color":{"field":"g","type":"nominal","legend":null}}},
{"mark":{"type":"tick","thickness":2.5,"size":26,"color":"#000"},"encoding":{"y":{"field":"med","type":"quantitative","title":null}}},
{"mark":{"type":"tick","thickness":1,"size":13,"color":"#222"},"encoding":{"y":{"field":"lo","type":"quantitative","title":null}}},
{"mark":{"type":"tick","thickness":1,"size":13,"color":"#222"},"encoding":{"y":{"field":"hi","type":"quantitative","title":null}}},
{"mark":{"type":"point","filled":true,"size":6,"color":"#888","opacity":1},"encoding":{"y":{"field":"o","type":"quantitative","title":null}}}]},
{"title":"Troponin","width":173,"height":128,"transform":[{"filter":"datum.p==='Troponin'"}],"encoding":{"x":{"field":"g","type":"ordinal","title":null}},"layer":[
{"mark":{"type":"rule","strokeDash":[3,2],"color":"#222","strokeWidth":0.8},"encoding":{"y":{"field":"lo","type":"quantitative","title":null,"scale":{"domain":[-2,52],"nice":false,"zero":false},"axis":{"values":[0,10,20,30,40,50],"tickCount":20,"format":"d","labelOverlap":false}},"y2":{"field":"hi"}}},
{"mark":{"type":"bar","stroke":"#333","strokeWidth":0.8},"encoding":{"y":{"field":"q1","type":"quantitative","title":null},"y2":{"field":"q3"},"color":{"field":"g","type":"nominal","legend":null}}},
{"mark":{"type":"tick","thickness":2.5,"size":26,"color":"#000"},"encoding":{"y":{"field":"med","type":"quantitative","title":null}}},
{"mark":{"type":"tick","thickness":1,"size":13,"color":"#222"},"encoding":{"y":{"field":"lo","type":"quantitative","title":null}}},
{"mark":{"type":"tick","thickness":1,"size":13,"color":"#222"},"encoding":{"y":{"field":"hi","type":"quantitative","title":null}}},
{"mark":{"type":"point","filled":true,"size":6,"color":"#888","opacity":1},"encoding":{"y":{"field":"o","type":"quantitative","title":null}}}]}
]}
]
}
